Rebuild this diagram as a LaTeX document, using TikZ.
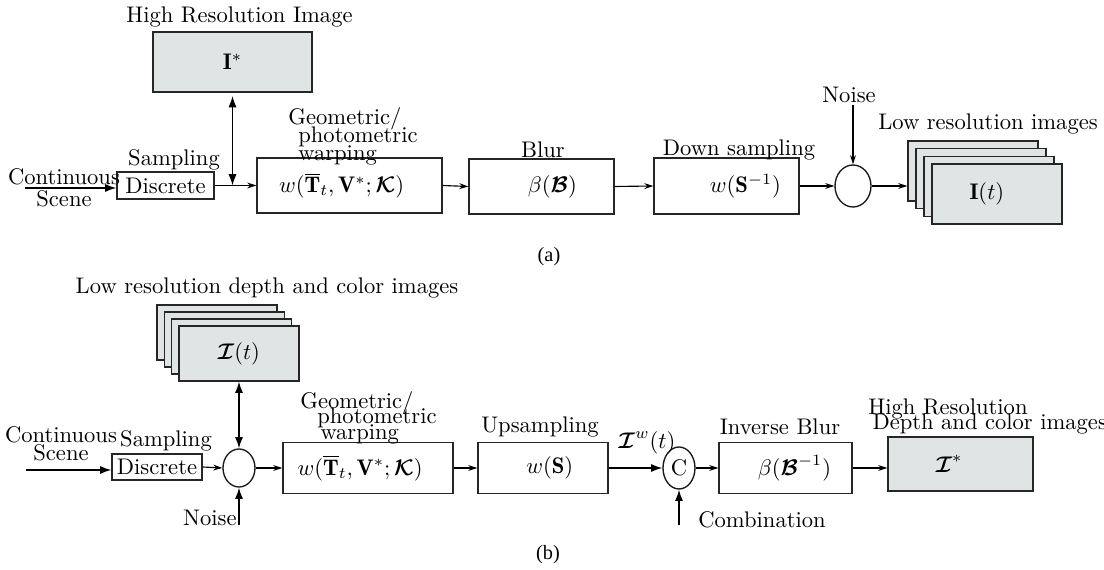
\documentclass[tikz,border=0pt]{standalone}
\usepackage{amsmath, amsfonts, bm}
\usepackage{fontspec}
\newfontfamily\capfont{Liberation Serif}
\usepackage{tikz}
\usetikzlibrary{arrows.meta}
\usetikzlibrary{calc}
\usetikzlibrary{shapes.geometric}
\definecolor{boxgray}{RGB}{225,228,228}
\newcommand{\pxu}{0.443pt}
\tikzstyle{block} = [draw=black!85, line width=0.6pt, inner sep=0pt]
\tikzstyle{grayblock} = [block, fill=boxgray]
\tikzstyle{sumnode} = [draw=black!90, ellipse, line width=0.6pt, inner sep=0pt]
\tikzstyle{lbl} = [inner sep=0pt]
\tikzstyle{arrow} = [line width=0.5pt, -{Stealth[length=4pt,width=2.6pt]}]
\tikzstyle{bigarrow} = [line width=0.6pt, -{Latex[length=5pt,width=3.6pt]}]
\tikzstyle{dblarrow} = [line width=0.6pt, {Latex[length=5pt,width=3.6pt]}-{Latex[length=5pt,width=3.6pt]}]

\begin{document}
\begin{tikzpicture}[x=\pxu, y=-\pxu]
			\useasboundingbox (0,0) rectangle (1104,570);
			
			\node[grayblock, minimum width=159*\pxu, minimum height=60*\pxu] (hri) at (232.5,62) {$\mathbf{I}^{*}$};
			\node[lbl] (hrilbl) at (239.5,17) {High Resolution Image};
			\node[block, minimum width=97*\pxu, minimum height=27*\pxu] (disca) at (165.5,185.5) {Discrete};
			\node[lbl] (sampa) at (174,160) {Sampling};
			\node[lbl, align=center] (conta) at (64,188) {Continuous\\[-2pt]Scene};
			\node[block, minimum width=185*\pxu, minimum height=55*\pxu] (warpa) at (349.5,185.5) {$w(\overline{\mathbf{T}}_t, \mathbf{V}^{*}; \bm{\mathcal{K}})$\hspace*{7pt}};
			\node[lbl, align=left, anchor=north west] (geoa) at (288,107) {Geometric/\\[-4pt]\hspace*{4.4pt}photometric\\[-4pt]\hspace*{4.4pt}warping};
			\node[block, minimum width=145*\pxu, minimum height=55*\pxu] (blur) at (541.5,186.5) {\hspace*{9.7pt}$\beta(\bm{\mathcal{B}})$};
			\node[lbl] (blurlbl) at (543,150) {Blur};
			\node[block, minimum width=145*\pxu, minimum height=56*\pxu] (down) at (726.5,186) {\hspace*{16.8pt}$w(\mathbf{S}^{-1})$};
			\node[lbl] (downlbl) at (739,150) {Down sampling};
			\node[sumnode, minimum width=36*\pxu, minimum height=42*\pxu] (circa) at (853,186) {};
			\node[lbl] (noisea) at (849,95) {Noise};
			\coordinate (na) at (853,105);
			\node[grayblock, minimum width=130*\pxu, minimum height=60*\pxu] (la1) at (973,171) {};
			\node[grayblock, minimum width=130*\pxu, minimum height=60*\pxu] (la2) at (981,178.7) {};
			\node[grayblock, minimum width=130*\pxu, minimum height=60*\pxu] (la3) at (989,186.4) {};
			\node[grayblock, minimum width=130*\pxu, minimum height=60*\pxu] (la4) at (997,194) {$\mathbf{I}(t)$\hspace*{9pt}};
			\node[lbl] (lalbl) at (988,124) {Low resolution images};
			\node[lbl, font=\capfont\small] (capa) at (549,257) {(a)};
			
			\coordinate (ca) at (25,188);
			\coordinate (ja) at (hri.south |- disca.east);
			\draw[bigarrow] (ca) -- (disca.west |- ca);
			\draw[arrow] (disca.east) -- (warpa.west);
			\draw[dblarrow, shorten <=1.5pt] (hri.south) -- (ja);
			\draw[arrow] (warpa.east) -- (blur.west);
			\draw[arrow] (blur.east) -- (down.west);
			\draw[arrow] (down.east) -- (circa.west);
			\draw[arrow] (na) -- (circa.north);
			\draw[arrow] (circa.east) -- (circa.east -| la1.west);
			
			\node[grayblock, minimum width=120*\pxu, minimum height=55*\pxu] (lb1) at (217,332.5) {};
			\node[grayblock, minimum width=120*\pxu, minimum height=55*\pxu] (lb2) at (224.3,339.5) {};
			\node[grayblock, minimum width=120*\pxu, minimum height=55*\pxu] (lb3) at (231.6,346.5) {};
			\node[grayblock, minimum width=120*\pxu, minimum height=55*\pxu] (lb4) at (239,353.5) {$\bm{\mathcal{I}}(t)$};
			\node[lbl] (lblbl) at (267,288) {Low resolution depth and color images};
			\node[sumnode, minimum width=32*\pxu, minimum height=38*\pxu] (circb) at (239,468) {};
			\node[block, minimum width=90*\pxu, minimum height=26*\pxu] (discb) at (157,467) {Discrete};
			\node[lbl] (sampb) at (166,441) {Sampling};
			\node[lbl, align=center] (contb) at (61,444) {Continuous\\[-4pt]Scene};
			\node[lbl, anchor=east] (noiseb) at (237,518) {Noise};
			\coordinate (nb) at (239,525);
			\node[block, minimum width=170*\pxu, minimum height=51*\pxu] (warpb) at (368,468) {$w(\overline{\mathbf{T}}_t, \mathbf{V}^{*}; \bm{\mathcal{K}})$\hspace*{7pt}};
			\node[lbl, align=left, anchor=north west] (geob) at (300,391) {Geometric/\\[-5.1pt]\hspace*{7.5pt}photometric\\[-5.1pt]\hspace*{8.9pt}warping};
			\node[block, minimum width=130*\pxu, minimum height=51*\pxu] (up) at (543,468) {\hspace*{6pt}$w(\mathbf{S})$};
			\node[lbl] (uplbl) at (540,427) {Upsampling};
			\node[sumnode, minimum width=32*\pxu, minimum height=42*\pxu] (comb) at (679,468) {C};
			\node[lbl] (iwlbl) at (647,443) {$\bm{\mathcal{I}}^{w}(t)$};
			\node[lbl] (comblbl) at (762,520) {Combination};
			\coordinate (cb) at (679,525);
			\node[block, minimum width=133*\pxu, minimum height=51*\pxu] (iblur) at (785.5,468) {\hspace*{8pt}$\beta(\bm{\mathcal{B}}^{-1})$};
			\node[lbl] (iblurlbl) at (780,427) {Inverse Blur};
			\node[grayblock, minimum width=145*\pxu, minimum height=54*\pxu] (hrb) at (960.5,464) {$\bm{\mathcal{I}}^{*}$\hspace*{10pt}};
			\node[lbl, align=left, anchor=north west] (hrblbl) at (868,398) {High Resolution\\[-5.4pt]\hspace*{1.8pt}Depth and color images};
			\node[lbl, font=\capfont\small] (capb) at (548,555) {(b)};
			
			\coordinate (cnb) at (26,470);
			\draw[bigarrow] (cnb) -- (discb.west |- cnb);
			\draw[dblarrow] (lb4.south) -- (circb.north);
			\draw[arrow] (discb.east) -- (circb.west);
			\draw[bigarrow] (nb) -- (circb.south);
			\draw[arrow] (circb.east) -- (warpb.west);
			\draw[arrow] (warpb.east) -- (up.west);
			\draw[bigarrow] (up.east) -- (comb.west);
			\draw[bigarrow] (cb) -- (comb.south);
			\draw[arrow] (comb.east) -- (iblur.west);
			\draw[arrow] (iblur.east) -- (iblur.east -| hrb.west);
			
		\end{tikzpicture}
\end{document}
